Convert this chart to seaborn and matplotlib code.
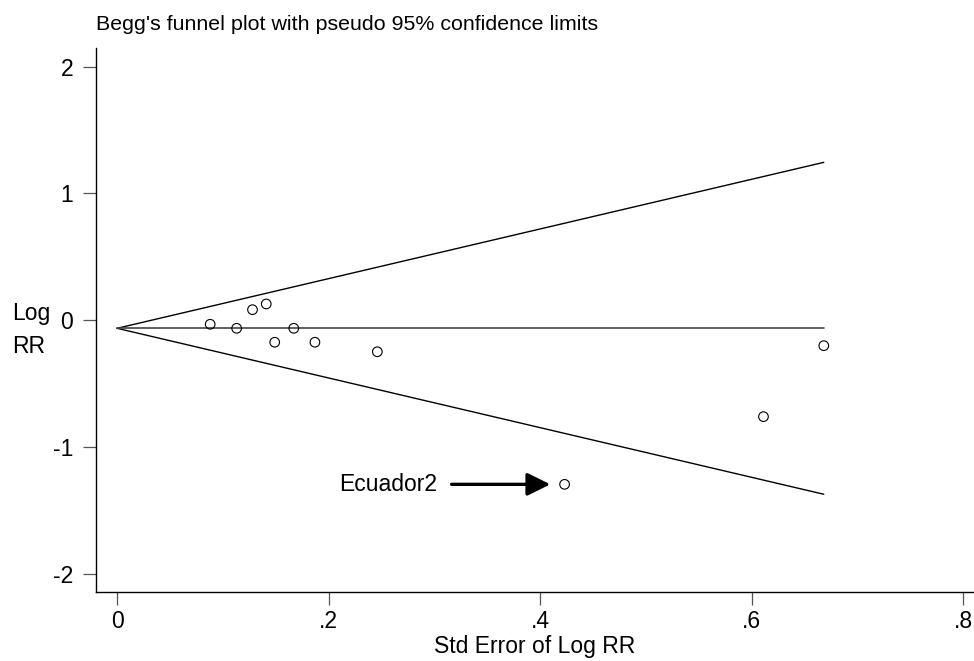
import numpy as np
import pandas as pd
import matplotlib
matplotlib.use("Agg")
import matplotlib.pyplot as plt
import seaborn as sns

# ---- data ----
se = [0.088, 0.113, 0.128, 0.141, 0.149, 0.167, 0.187, 0.246, 0.423, 0.611, 0.668]
log_rr = [-0.032, -0.064, 0.083, 0.128, -0.174, -0.064, -0.174, -0.249, -1.295, -0.761, -0.201]
pooled = -0.064
z95 = 1.96
x_ticks = [0, 0.2, 0.4, 0.6, 0.8]
x_tick_labels = ["0", ".2", ".4", ".6", ".8"]
y_ticks = [-2, -1, 0, 1, 2]
y_tick_labels = ["-2", "-1", "0", "1", "2"]
annot_label = "Ecuador2"
annot_se = 0.423
annot_y = -1.295

sns.set_theme(style="white")
plt.rcParams["font.family"] = ["Liberation Sans", "DejaVu Sans"]
plt.rcParams["text.color"] = "black"
plt.rcParams["axes.labelcolor"] = "black"

points = pd.DataFrame({"se": se, "log_rr": log_rr})
se_line = [0.0] + sorted(se)
limits = pd.DataFrame({
    "se": se_line,
    "upper": [pooled + z95 * s for s in se_line],
    "lower": [pooled - z95 * s for s in se_line],
    "pooled": [pooled for s in se_line],
})

fig = plt.figure(figsize=(9.74, 6.61), dpi=100)
ax = fig.add_axes([0.0986, 0.1039, 0.9014, 0.823])

sns.lineplot(data=limits, x="se", y="upper", color="black", lw=1.0, sort=False, estimator=None, ax=ax)
sns.lineplot(data=limits, x="se", y="lower", color="black", lw=1.0, sort=False, estimator=None, ax=ax)
sns.lineplot(data=limits, x="se", y="pooled", color="#444444", lw=1.2, sort=False, estimator=None, ax=ax)
sns.scatterplot(data=points, x="se", y="log_rr", marker="o", s=48, facecolor="none",
                edgecolor="black", linewidth=0.8, ax=ax, zorder=5)

ax.annotate(annot_label, xy=(annot_se - 0.0135, annot_y), xytext=(0.3026, annot_y),
            ha="right", va="center", fontsize=16.5, color="black",
            arrowprops=dict(arrowstyle="-|>,head_length=0.85,head_width=0.42", lw=2.4,
                            color="black", shrinkA=8, shrinkB=0))

ax.set_xlim(-0.0199, 0.81)
ax.set_ylim(-2.147, 2.145)
ax.set_xticks(x_ticks)
ax.set_xticklabels(x_tick_labels)
ax.set_yticks(y_ticks)
ax.set_yticklabels(y_tick_labels)
ax.set_xlabel("Std Error of Log RR", fontsize=16.5, labelpad=2, color="black")
ax.set_ylabel("")

for side in ["top", "right"]:
    ax.spines[side].set_visible(False)
for side in ["left", "bottom"]:
    ax.spines[side].set_color("black")
    ax.spines[side].set_linewidth(1.0)

ax.tick_params(axis="x", direction="out", length=9.4, width=0.9, color="#555555",
               labelcolor="black", pad=3, labelsize=16.5, bottom=True)
ax.tick_params(axis="y", direction="out", length=9.4, width=0.9, color="#555555",
               labelcolor="black", pad=7, labelsize=16.5, left=True)
ax.grid(False)

fig.text(12 / 974, 1 - 330 / 661, "Log\nRR", ha="left", va="center", fontsize=16.5,
         linespacing=1.55, color="black")
fig.text(96 / 974, 1 - 25 / 661, "Begg's funnel plot with pseudo 95% confidence limits",
         ha="left", va="center", fontsize=15.4, color="black")

fig.savefig("out.png", dpi=100, facecolor="white")
